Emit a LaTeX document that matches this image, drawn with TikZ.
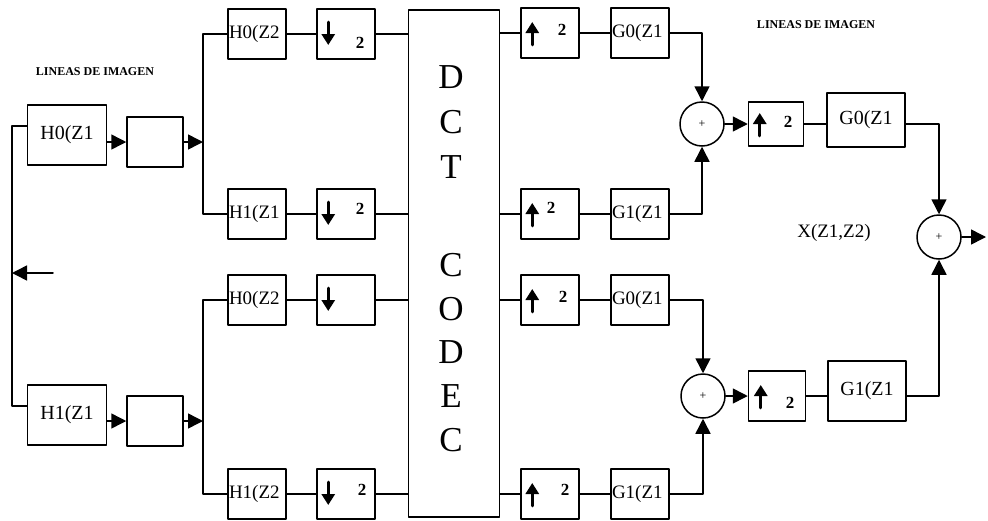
\documentclass[tikz,border=0pt]{standalone}
\usepackage{fontspec}
\setmainfont{Liberation Serif}
\usetikzlibrary{arrows.meta,calc}

\tikzset{
  blk/.style={draw,inner sep=0pt,minimum width=58pt,minimum height=50pt},
  bigblk/.style={blk,minimum width=79pt,minimum height=60pt,font=\fontsize{20}{20}\selectfont},
  filt/.style={blk,text width=56pt,align=left,font=\fontsize{19}{19}\selectfont},
  rgblk/.style={blk,minimum width=78pt,minimum height=54pt,font=\fontsize{20}{20}\selectfont},
  sumnode/.style={draw,circle,minimum size=44pt,inner sep=0pt,font=\fontsize{12}{12}\selectfont},
  rarrow/.style={line width=2.8pt,-{Triangle[length=11pt,width=13pt]}},
  num/.style={inner sep=0pt,font=\fontsize{17}{17}\selectfont\bfseries},
  title/.style={inner sep=0pt,font=\fontsize{12}{12}\selectfont\bfseries},
  dctlet/.style={inner sep=0pt,font=\fontsize{35}{35}\selectfont}
}

\begin{document}
\begin{tikzpicture}[x=1pt,y=-1pt,line cap=round,line join=round,line width=1.5pt,
  >={Triangle[length=15pt,width=15pt]}]
\useasboundingbox (0,0) rectangle (988,520);
% input side
\node[title] (tl) at (95,72) {LINEAS DE IMAGEN};
\node[bigblk] (h0z1) at (67,135) {H0(Z1};
\node[bigblk] (h1z1) at (67,415) {H1(Z1};
\node[blk,minimum width=56pt] (d1) at (155,142) {};
\node[blk,minimum width=56pt] (d2) at (155,421) {};
\coordinate (inp) at (53,273);
\coordinate (fb) at (12,273);
\coordinate (sp1) at (203,142);
\coordinate (sp2) at (203,421);
\draw[->] (inp) -- (fb);
\draw ([yshift=9pt]h0z1.west) -| (fb) |- ([yshift=9pt]h1z1.west);
\draw[->] (h0z1.east |- d1.west) -- (d1.west);
\draw[->] (h1z1.east |- d2.west) -- (d2.west);
\draw[->] (d1.east) -- (sp1);
\draw[->] (d2.east) -- (sp2);
% analysis filters
\node[filt] (f1) at (257,34) {H0(Z2};
\node[filt] (f2) at (257,214) {H1(Z1};
\node[filt] (f3) at (257,300) {H0(Z2};
\node[filt] (f4) at (257,494) {H1(Z2};
\draw (f1.west) -| (sp1) |- (f2.west);
\draw (f3.west) -| (sp2) |- (f4.west);
% decimators
\node[blk] (dn1) at (346,34) {};
\node[blk] (dn2) at (346,214) {};
\node[blk] (dn3) at (346,300) {};
\node[blk] (dn4) at (346,494) {};
\foreach \b in {dn1,dn2,dn3,dn4}
  \draw[rarrow] ([xshift=12pt,yshift=12pt]\b.west) -- ([xshift=12pt,yshift=-11pt]\b.west);
\node[num] (n1) at (360,43) {2};
\node[num] (n2) at (360,209) {2};
\node[num] (n4) at (362,490) {2};
% codec
\node[draw,minimum width=91pt,minimum height=507pt,inner sep=0pt] (dct) at (454,263.5) {};
\foreach \l/\y in {D/77,C/122,T/167,C/265,O/309,D/352,E/396,C/440}
  \node[dctlet] (l\y) at (451,\y) {\l};
% interpolators
\node[blk] (up1) at (550,33) {};
\node[blk] (up2) at (550,214) {};
\node[blk] (up3) at (550,300) {};
\node[blk] (up4) at (550,494) {};
\foreach \b in {up1,up2,up3,up4}
  \draw[rarrow] ([xshift=12pt,yshift=-12pt]\b.west) -- ([xshift=12pt,yshift=11pt]\b.west);
\node[num] (m1) at (562,30) {2};
\node[num] (m2) at (551,208) {2};
\node[num] (m3) at (563,297) {2};
\node[num] (m4) at (565,490) {2};
% synthesis filters
\node[filt] (g1) at (640,33) {G0(Z1};
\node[filt] (g2) at (640,214) {G1(Z1};
\node[filt] (g3) at (640,300) {G0(Z1};
\node[filt] (g4) at (640,494) {G1(Z1};
\foreach \a/\b in {f1/dn1,f2/dn2,f3/dn3,f4/dn4,up1/g1,up2/g2,up3/g3,up4/g4}
  \draw (\a.east) -- (\b.west);
\foreach \b in {dn1,dn2,dn3,dn4}
  \draw (\b.east) -- (\b.east -| dct.west);
\foreach \b in {up1,up2,up3,up4}
  \draw (\b.west -| dct.east) -- (\b.west);
% reconstruction
\node[sumnode] (s1) at (702,124) {+};
\node[sumnode] (s2) at (703,396) {+};
\node[sumnode] (s3) at (939,237) {+};
\draw[->] (g1.east) -| (s1.north);
\draw[->] (g2.east) -| (s1.south);
\draw[->] (g3.east) -| (s2.north);
\draw[->] (g4.east) -| (s2.south);
\node[blk,minimum width=55pt,minimum height=44pt] (ru1) at (776,124) {};
\node[blk,minimum width=57pt,minimum height=50pt] (ru2) at (777,396) {};
\draw[rarrow] ([xshift=12pt,yshift=-12pt]ru1.west) -- ([xshift=12pt,yshift=11pt]ru1.west);
\draw[rarrow] ([xshift=13pt,yshift=-12pt]ru2.west) -- ([xshift=13pt,yshift=11pt]ru2.west);
\node[num] (k1) at (788,122) {2};
\node[num] (k2) at (790,403) {2};
\draw[->] (s1) -- (ru1);
\draw[->] (s2) -- (ru2);
\node[rgblk] (rg1) at (866,120) {G0(Z1};
\node[rgblk,minimum height=60pt] (rg2) at (867,391) {G1(Z1};
\draw (ru1.east) -- (ru1.east -| rg1.west);
\draw (ru2.east) -- (ru2.east -| rg2.west);
\draw[->] (rg1.east |- ru1.east) -| (s3.north);
\draw[->] (rg2.east |- ru2.east) -| (s3.south);
\coordinate (outp) at (986,237);
\draw[->] (s3.east) -- (outp);
\node[title] (tr) at (816,25) {LINEAS DE IMAGEN};
\node[font=\fontsize{19}{19}\selectfont,inner sep=0pt] (xz) at (834,233) {X(Z1,Z2)};
\end{tikzpicture}
\end{document}
